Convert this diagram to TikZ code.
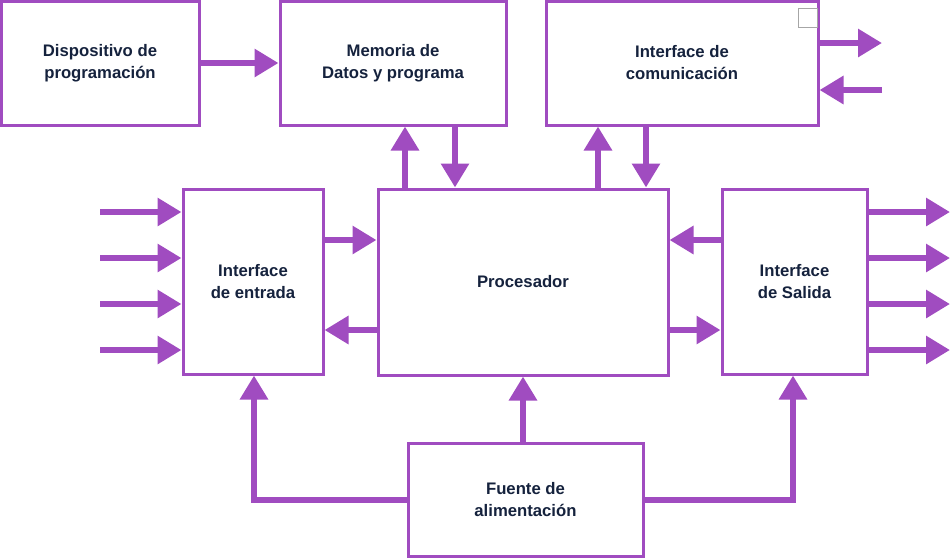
\documentclass[tikz,border=0pt]{standalone}
\usepackage{fontspec}
\setmainfont{Liberation Sans}
\usetikzlibrary{arrows.meta}
\definecolor{pur}{HTML}{A04CC0}
\definecolor{txt}{HTML}{15223D}
\begin{document}
\begin{tikzpicture}[x=1pt,y=-1pt,
  blk/.style={draw=pur,line width=3pt,fill=white,inner sep=0pt,align=center,
    font=\fontsize{16.7}{22}\selectfont\bfseries,text=txt},
  arr/.style={draw=pur,line width=6pt,-{Triangle[length=24pt,width=27pt]},color=pur}]
\useasboundingbox (0,0) rectangle (951,558);
% boxes
\node[blk,minimum width=198pt,minimum height=124pt] (disp) at (100,63) {Dispositivo de\\programación};
\node[blk,minimum width=226pt,minimum height=124pt] (mem) at (393,63) {Memoria de\\Datos y programa};
\node[blk,minimum width=272pt,minimum height=124pt] (com) at (682,63) {Interface de\\comunicación};
\node[blk,minimum width=140pt,minimum height=185pt] (ent) at (253,281.5) {Interface\\de entrada};
\node[blk,minimum width=290pt,minimum height=186pt] (pro) at (523,282) {Procesador};
\node[blk,minimum width=145pt,minimum height=185pt] (sal) at (794.5,281.5) {Interface\\de Salida};
\node[blk,minimum width=235pt,minimum height=113pt] (fue) at (525.5,499.5) {Fuente de\\alimentación};
% small grey square
\draw[gray!70,line width=1pt,fill=white] (798,8) rectangle (817,27);
% free-end coordinates
\coordinate (co1) at (882,43);
\coordinate (co2) at (882,90);
\foreach \y [count=\i] in {212,258,304,350}{
  \coordinate (ei\i) at (100,\y);
  \coordinate (so\i) at (950,\y);
}
% connectors
\draw[arr] (disp.east |- 0,63) -- (mem.west |- 0,63);
\draw[arr] (pro.north -| 405,0) -- (mem.south -| 405,0);
\draw[arr] (mem.south -| 455,0) -- (pro.north -| 455,0);
\draw[arr] (pro.north -| 598,0) -- (com.south -| 598,0);
\draw[arr] (com.south -| 646,0) -- (pro.north -| 646,0);
\draw[arr] (com.east |- co1) -- (co1);
\draw[arr] (co2) -- (com.east |- co2);
\foreach \i in {1,...,4}{
  \draw[arr] (ei\i) -- (ent.west |- ei\i);
  \draw[arr] (sal.east |- so\i) -- (so\i);
}
\draw[arr] (ent.east |- 0,240) -- (pro.west |- 0,240);
\draw[arr] (pro.west |- 0,330) -- (ent.east |- 0,330);
\draw[arr] (sal.west |- 0,240) -- (pro.east |- 0,240);
\draw[arr] (pro.east |- 0,330) -- (sal.west |- 0,330);
\draw[arr] (fue.north -| 523,0) -- (pro.south -| 523,0);
\draw[arr] (fue.west |- 0,500) -| (ent.south -| 254,0);
\draw[arr] (fue.east |- 0,500) -| (sal.south -| 793,0);
\end{tikzpicture}
\end{document}
